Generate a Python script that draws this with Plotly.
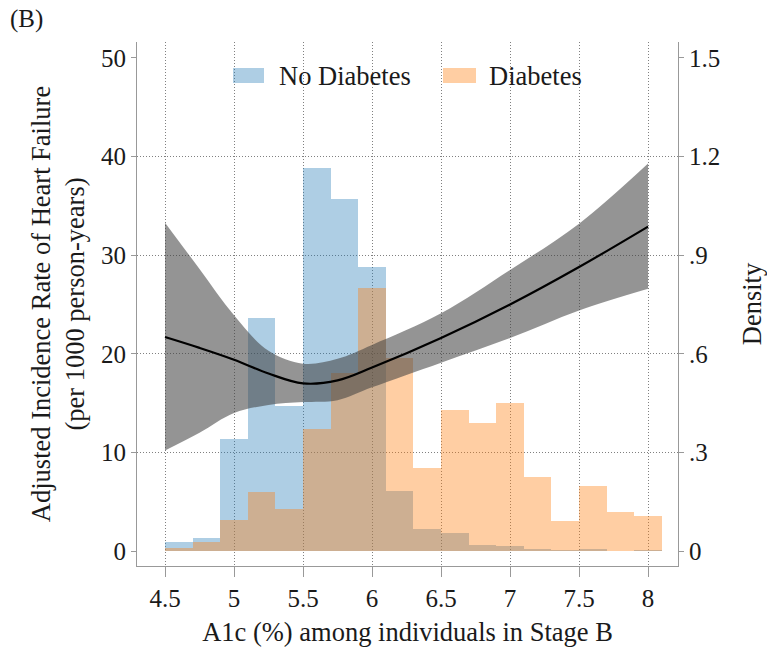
import plotly.graph_objects as go

# ---------------- data ----------------
bin_left = [4.5, 4.7, 4.9, 5.1, 5.3, 5.5, 5.7, 5.9, 6.1, 6.3, 6.5, 6.7, 6.9, 7.1, 7.3, 7.5, 7.7, 7.9]
bin_width = 0.2
density_no_diabetes = [0.027, 0.040, 0.342, 0.708, 0.441, 1.166, 1.071, 0.864, 0.183,
                       0.067, 0.055, 0.019, 0.016, 0.007, 0.003, 0.006, 0.0, 0.003]
density_diabetes = [0.010, 0.027, 0.095, 0.180, 0.129, 0.371, 0.541, 0.801, 0.586,
                    0.253, 0.429, 0.389, 0.450, 0.226, 0.090, 0.197, 0.119, 0.106]

a1c_grid = [4.5, 4.75, 5.0, 5.25, 5.5, 5.75, 6.0, 6.5, 7.0, 7.5, 8.0]
rate_fit = [21.7, 20.6, 19.4, 18.0, 17.0, 17.3, 18.6, 21.6, 25.0, 28.8, 32.9]
rate_upper = [33.3, 28.6, 23.9, 20.3, 19.0, 19.5, 20.9, 24.1, 28.5, 33.2, 39.3]
rate_lower = [10.2, 12.0, 14.0, 14.8, 15.1, 15.3, 16.6, 19.1, 21.6, 24.4, 26.6]

x_ticks = [4.5, 5, 5.5, 6, 6.5, 7, 7.5, 8]
x_ticktext = ["4.5", "5", "5.5", "6", "6.5", "7", "7.5", "8"]
rate_ticks = [0, 10, 20, 30, 40, 50]
rate_grid = [10, 20, 30, 40]
density_ticks = [0, 0.3, 0.6, 0.9, 1.2, 1.5]
density_ticktext = ["0", ".3", ".6", ".9", "1.2", "1.5"]

legend_labels = ["No Diabetes", "Diabetes"]

# ---------------- style ----------------
W, H = 767, 653
ML, MR, MT, MB = 137, 89, 42, 87
PW, PH = W - ML - MR, H - MT - MB
FONT = "Liberation Serif"
FS_TICK = 25
FS_TITLE = 26.5
BLUE = "rgba(31,119,180,0.36)"
ORANGE = "rgba(255,127,14,0.38)"
BAND = "rgba(64,64,64,0.56)"
AXC = "#999999"
GRIDC = "#808080"
GRIDDASH = "1px,2px"
TXT = "#1a1a1a"

x_range = [4.297, 8.217]
rate_range = [-1.52, 51.62]
dens_scale = 0.03
dens_range = [rate_range[0] * dens_scale, rate_range[1] * dens_scale]

centers = [b + bin_width / 2 for b in bin_left]

fig = go.Figure()
fig.add_trace(go.Bar(x=centers, y=density_no_diabetes, width=bin_width,
                     marker=dict(color=BLUE, line=dict(width=0)),
                     name=legend_labels[0], xaxis="x", yaxis="y", showlegend=False))
fig.add_trace(go.Bar(x=centers, y=density_diabetes, width=bin_width,
                     marker=dict(color=ORANGE, line=dict(width=0)),
                     name=legend_labels[1], xaxis="x", yaxis="y", showlegend=False))
fig.add_trace(go.Scatter(x=a1c_grid, y=rate_upper, mode="lines",
                         line=dict(width=0, shape="spline", color=BAND),
                         xaxis="x", yaxis="y2", showlegend=False, hoverinfo="skip"))
fig.add_trace(go.Scatter(x=a1c_grid, y=rate_lower, mode="lines",
                         line=dict(width=0, shape="spline", color=BAND),
                         fill="tonexty", fillcolor=BAND,
                         xaxis="x", yaxis="y2", showlegend=False, hoverinfo="skip"))
fig.add_trace(go.Scatter(x=a1c_grid, y=rate_fit, mode="lines",
                         line=dict(width=2.2, shape="spline", color="black"),
                         xaxis="x", yaxis="y3", showlegend=False))

tickfont = dict(family=FONT, size=FS_TICK, color=TXT)
titlefont = dict(family=FONT, size=FS_TITLE, color=TXT)

fig.update_layout(
    template="none",
    width=W, height=H,
    margin=dict(l=ML, r=MR, t=MT, b=MB, pad=0),
    paper_bgcolor="white", plot_bgcolor="white",
    barmode="overlay", bargap=0,
    font=dict(family=FONT, size=FS_TICK, color=TXT),
    xaxis=dict(range=x_range, tickmode="array", tickvals=x_ticks, ticktext=x_ticktext,
               automargin=False,
               ticks="outside", ticklen=10, tickcolor=AXC, tickwidth=1,
               showline=True, linecolor=AXC, linewidth=1, zeroline=False,
               showgrid=True, gridcolor=GRIDC, griddash=GRIDDASH, gridwidth=1,
               tickfont=tickfont,
               title=dict(text="A1c (%) among individuals in Stage B",
                          font=titlefont, standoff=11)),
    yaxis=dict(range=dens_range, side="right", anchor="x", automargin=False,
               tickmode="array", tickvals=density_ticks, ticktext=density_ticktext,
               ticks="outside", ticklen=5, tickcolor=AXC, tickwidth=1,
               showline=True, linecolor=AXC, linewidth=1, zeroline=False, showgrid=False,
               tickfont=tickfont,
               title=dict(text="Density", font=titlefont, standoff=24)),
    yaxis2=dict(range=rate_range, side="left", overlaying="y", anchor="x", automargin=False,
                tickmode="array", tickvals=rate_ticks,
                ticks="outside", ticklen=5, tickcolor=AXC, tickwidth=1,
                showline=True, linecolor=AXC, linewidth=1, zeroline=False, showgrid=False,
                tickfont=tickfont,
                title=dict(text="Adjusted Incidence Rate of Heart Failure<br>(per 1000 person-years)",
                           font=titlefont, standoff=8)),
    yaxis3=dict(range=rate_range, side="left", overlaying="y", anchor="x", automargin=False,
                tickmode="array", tickvals=rate_grid, showticklabels=False, ticks="",
                showline=False, zeroline=False,
                showgrid=True, gridcolor=GRIDC, griddash=GRIDDASH, gridwidth=1),
)

# panel label
fig.add_annotation(text="(B)", xref="paper", yref="paper", x=0, y=1,
                   xanchor="left", yanchor="middle", xshift=8 - ML, yshift=MT - 19,
                   showarrow=False, font=dict(family=FONT, size=FS_TICK, color=TXT))

# manual legend (swatches + labels), positioned in pixels inside the plot area
def px_x(px):
    return (px - ML) / PW

def px_y(py):
    return (MT + PH - py) / PH

legend_items = [(legend_labels[0], BLUE, 233, 264, 277), (legend_labels[1], ORANGE, 443, 476, 487)]
for label, color, sx0, sx1, tx in legend_items:
    fig.add_shape(type="rect", xref="paper", yref="paper",
                  x0=px_x(sx0), x1=px_x(sx1), y0=px_y(83), y1=px_y(68),
                  fillcolor=color, line=dict(width=0), layer="above")
    fig.add_annotation(text=label, xref="paper", yref="paper", x=px_x(tx), y=px_y(76),
                       xanchor="left", yanchor="middle", showarrow=False,
                       font=titlefont)

fig.write_html("out.html")
